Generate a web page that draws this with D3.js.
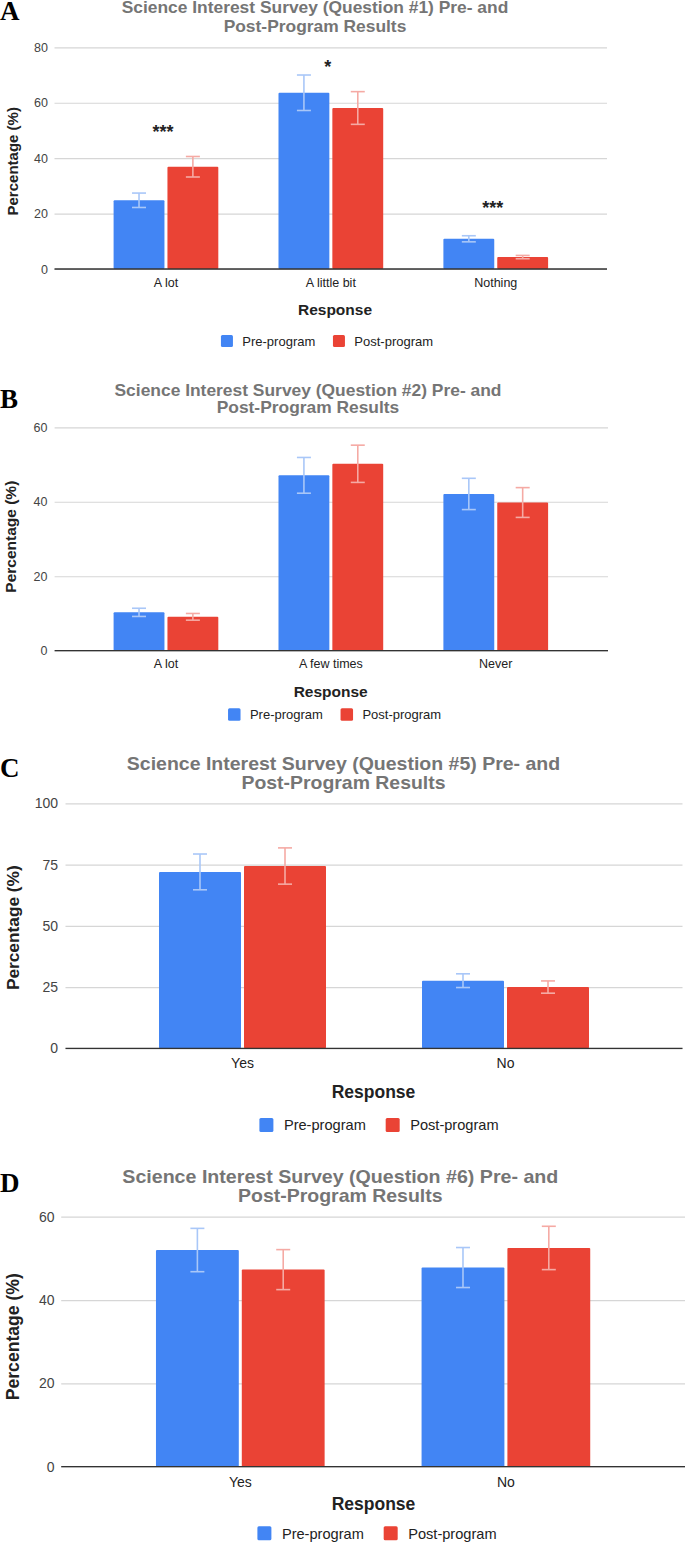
<!DOCTYPE html>
<html><head><meta charset="utf-8">
<script src="https://cdn.jsdelivr.net/npm/d3@7"></script>
<style>
html,body{margin:0;padding:0;background:#fff;}
svg{display:block;font-family:"Liberation Sans",Arial,sans-serif;}
</style></head>
<body>
<svg id="chart" width="685" height="1543"></svg>
<script>
// ---------- DATA ----------
const seriesNames = ["Pre-program", "Post-program"];

const q1Categories = ["A lot", "A little bit", "Nothing"];
const q1Pre = [24.8, 63.6, 10.9];
const q1PreErr = [2.6, 6.4, 1.1];
const q1Post = [36.9, 58.1, 4.3];
const q1PostErr = [3.7, 5.9, 0.6];
const q1Sig = ["***", "*", "***"];
const q1SigAt = [51.2, 74.5, 23.7];
const q1Ticks = [0, 20, 40, 60, 80];

const q2Categories = ["A lot", "A few times", "Never"];
const q2Pre = [10.3, 47.1, 42.1];
const q2PreErr = [1.1, 4.8, 4.2];
const q2Post = [9.1, 50.2, 39.8];
const q2PostErr = [0.9, 5.0, 4.0];
const q2Ticks = [0, 20, 40, 60];

const q5Categories = ["Yes", "No"];
const q5Pre = [72.0, 27.6];
const q5PreErr = [7.3, 2.8];
const q5Post = [74.4, 25.0];
const q5PostErr = [7.4, 2.5];
const q5Ticks = [0, 25, 50, 75, 100];

const q6Categories = ["Yes", "No"];
const q6Pre = [52.0, 47.8];
const q6PreErr = [5.2, 4.8];
const q6Post = [47.3, 52.5];
const q6PostErr = [4.8, 5.2];
const q6Ticks = [0, 20, 40, 60];

const panelLetters = ["A", "B", "C", "D"];
const panelTitles = [
  ["Science Interest Survey (Question #1) Pre- and", "Post-Program Results"],
  ["Science Interest Survey (Question #2) Pre- and", "Post-Program Results"],
  ["Science Interest Survey (Question #5) Pre- and", "Post-Program Results"],
  ["Science Interest Survey (Question #6) Pre- and", "Post-Program Results"]
];
const xTitle = "Response";
const yTitle = "Percentage (%)";

// ---------- LAYOUT / STYLE ----------
const colors = ["#4285f4", "#ea4335"];
const errColors = ["#a9c7f8", "#f5aaa4"];

const layouts = [
  {letterBase:20, titleX:315, titleY:[13.3,31.7], titleFs:16.5, titleLen:[386.6,182.7],
   y0:269, yTop:47.3, gridX:[54.5,607], tickEnd:48, tickFs:12.5, band:[83.5,578.2],
   xLabelBase:286.7, xFs:12.5, respX:335, respBase:315, respFs:15.5,
   yTitleX:18, yTitleY:161.3, yTitleFs:15, legCx:327, legY:341, sq:12, legFs:13},
  {letterBase:408, titleX:308, titleY:[396,413.3], titleFs:16.5, titleLen:[387,182.6],
   y0:650.7, yTop:427.3, gridX:[54.6,608], tickEnd:47.5, tickFs:12.5, band:[83.5,578.2],
   xLabelBase:668.3, xFs:12.5, respX:330.7, respBase:697.3, respFs:15.5,
   yTitleX:16, yTitleY:536.7, yTitleFs:15.5, legCx:334.6, legY:714.5, sq:12.5, legFs:13},
  {letterBase:777, titleX:343.5, titleY:[770,789], titleFs:18.5, titleLen:[433.4,204],
   y0:1048.3, yTop:803.3, gridX:[65.5,682.5], tickEnd:58, tickFs:14, band:[111,637],
   xLabelBase:1067.7, xFs:14, respX:373.5, respBase:1098.3, respFs:17.5,
   yTitleX:18.5, yTitleY:927.7, yTitleFs:17.3, legCx:379, legY:1125, sq:14, legFs:14.6},
  {letterBase:1192, titleX:340.3, titleY:[1182.7,1201.7], titleFs:18.5, titleLen:[436,204.5],
   y0:1466.7, yTop:1216.7, gridX:[61.2,685], tickEnd:54.6, tickFs:14, band:[107.5,638.7],
   xLabelBase:1486.7, xFs:14, respX:373.5, respBase:1510, respFs:17.5,
   yTitleX:18.5, yTitleY:1336.7, yTitleFs:17.6, legCx:377, legY:1533.3, sq:14, legFs:14.6}
];

const panels = [
  {cats:q1Categories, pre:q1Pre, preErr:q1PreErr, post:q1Post, postErr:q1PostErr, ticks:q1Ticks, sig:q1Sig, sigAt:q1SigAt},
  {cats:q2Categories, pre:q2Pre, preErr:q2PreErr, post:q2Post, postErr:q2PostErr, ticks:q2Ticks},
  {cats:q5Categories, pre:q5Pre, preErr:q5PreErr, post:q5Post, postErr:q5PostErr, ticks:q5Ticks},
  {cats:q6Categories, pre:q6Pre, preErr:q6PreErr, post:q6Post, postErr:q6PostErr, ticks:q6Ticks}
];

const svg = d3.select("#chart");

panels.forEach((p, i) => {
  const L = layouts[i];
  const g = svg.append("g");
  const yMax = d3.max(p.ticks);
  const y = d3.scaleLinear().domain([0, yMax]).range([L.y0, L.yTop]);
  const x = d3.scaleBand().domain(p.cats).range(L.band).padding(0);
  const gw = x.bandwidth() * 0.635;

  // panel letter
  g.append("text").attr("x", 0).attr("y", L.letterBase)
    .attr("font-family", "'Liberation Serif','Times New Roman',serif")
    .attr("font-weight", "bold").attr("font-size", 27).attr("fill", "#000")
    .text(panelLetters[i]);

  // title
  panelTitles[i].forEach((t, k) => {
    g.append("text").attr("x", L.titleX).attr("y", L.titleY[k])
      .attr("text-anchor", "middle").attr("font-weight", "bold")
      .attr("font-size", L.titleFs).attr("fill", "#757575")
      .attr("textLength", L.titleLen[k]).attr("lengthAdjust", "spacingAndGlyphs")
      .text(t);
  });

  // y axis with gridlines
  const yAxis = d3.axisLeft(y).tickValues(p.ticks)
    .tickSize(-(L.gridX[1] - L.gridX[0]))
    .tickPadding(L.gridX[0] - L.tickEnd);
  const ya = g.append("g").attr("transform", `translate(${L.gridX[0]},0)`).call(yAxis);
  ya.select(".domain").remove();
  ya.selectAll(".tick line").attr("stroke", "#d6d6d6").attr("stroke-width", 1.2);
  ya.selectAll(".tick text").attr("font-size", L.tickFs).attr("fill", "#444")
    .attr("font-family", "'Liberation Sans',Arial,sans-serif");

  // bars
  const series = [
    {vals:p.pre, errs:p.preErr, off:-1},
    {vals:p.post, errs:p.postErr, off:1}
  ];
  series.forEach((s, si) => {
    const bx = c => si === 0 ? x(c) + x.bandwidth()/2 - gw/2 : x(c) + x.bandwidth()/2 + 1.5;
    const bw = gw/2 - 1.5;
    g.append("g").selectAll("rect").data(p.cats).join("rect")
      .attr("x", c => bx(c))
      .attr("width", bw)
      .attr("y", (c, j) => y(s.vals[j]))
      .attr("height", (c, j) => y(0) - y(s.vals[j]))
      .attr("rx", 1)
      .attr("fill", colors[si]);
    // error bars
    const eg = g.append("g").attr("stroke", errColors[si]).attr("stroke-width", 1.6).attr("fill", "none");
    p.cats.forEach((c, j) => {
      const cx = bx(c) + bw/2;
      const hi = y(s.vals[j] + s.errs[j]), lo = y(s.vals[j] - s.errs[j]);
      eg.append("line").attr("x1", cx).attr("x2", cx).attr("y1", hi).attr("y2", lo);
      eg.append("line").attr("x1", cx - 7).attr("x2", cx + 7).attr("y1", hi).attr("y2", hi);
      eg.append("line").attr("x1", cx - 7).attr("x2", cx + 7).attr("y1", lo).attr("y2", lo);
    });
  });

  // baseline
  g.append("line").attr("x1", L.gridX[0]).attr("x2", L.gridX[1])
    .attr("y1", y(0)).attr("y2", y(0)).attr("stroke", "#333").attr("stroke-width", 1.3);

  // x labels
  const xAxis = d3.axisBottom(x).tickSize(0).tickPadding(0);
  const xa = g.append("g").attr("transform", `translate(0,${L.xLabelBase})`).call(xAxis);
  xa.select(".domain").remove();
  xa.selectAll(".tick text").attr("dy", 0).attr("y", 0)
    .attr("font-size", L.xFs).attr("fill", "#222")
    .attr("font-family", "'Liberation Sans',Arial,sans-serif");

  // significance
  if (p.sig) {
    g.append("g").selectAll("text").data(p.cats).join("text")
      .attr("x", c => x(c) + x.bandwidth()/2 - 3)
      .attr("y", (c, j) => y(p.sigAt[j]))
      .attr("dy", "0.58em")
      .attr("text-anchor", "middle").attr("font-weight", "bold")
      .attr("font-size", 18).attr("fill", "#222")
      .text((c, j) => p.sig[j]);
  }

  // axis titles
  g.append("text").attr("x", L.respX).attr("y", L.respBase)
    .attr("text-anchor", "middle").attr("font-weight", "bold")
    .attr("font-size", L.respFs).attr("fill", "#222").text(xTitle);
  g.append("text")
    .attr("transform", `translate(${L.yTitleX},${L.yTitleY}) rotate(-90)`)
    .attr("text-anchor", "middle").attr("font-weight", "bold")
    .attr("font-size", L.yTitleFs).attr("fill", "#222").text(yTitle);

  // legend
  const lg = g.append("g");
  const g1 = 0.72 * L.legFs, g2 = 1.36 * L.legFs;
  const items = seriesNames.map((n, k) => {
    const it = lg.append("g");
    it.append("rect").attr("width", L.sq).attr("height", L.sq).attr("rx", 1.5)
      .attr("y", L.legY - L.sq/2).attr("fill", colors[k]);
    const t = it.append("text").attr("x", L.sq + g1).attr("y", L.legY).attr("dy", "0.36em")
      .attr("font-size", L.legFs).attr("fill", "#222").text(n);
    return {it, w: L.sq + g1 + t.node().getComputedTextLength()};
  });
  const total = items[0].w + g2 + items[1].w;
  let cur = L.legCx - total/2;
  items.forEach(o => { o.it.attr("transform", `translate(${cur},0)`); cur += o.w + g2; });
});
</script>
</body></html>
